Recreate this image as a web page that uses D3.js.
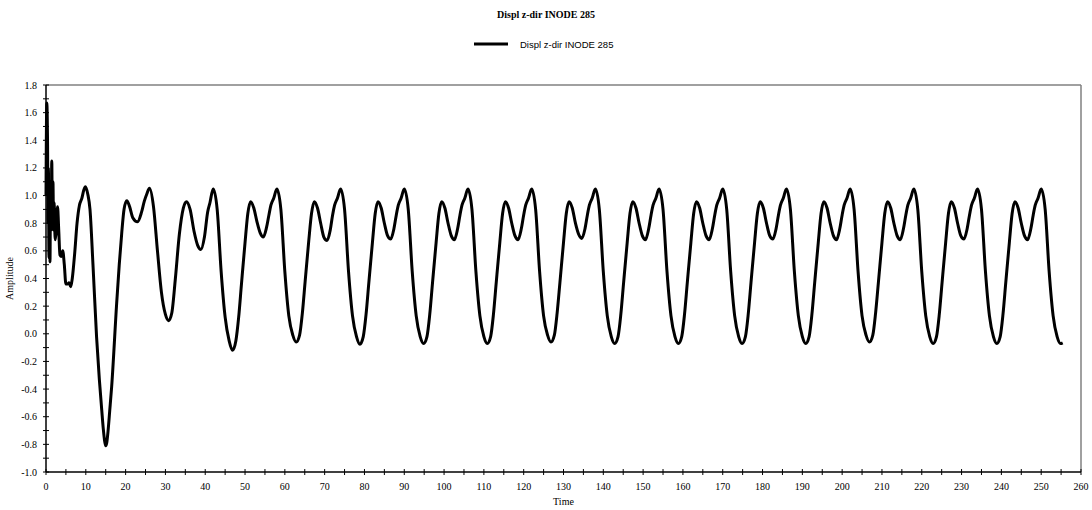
<!DOCTYPE html>
<html>
<head>
<meta charset="utf-8">
<script src="https://cdn.jsdelivr.net/npm/d3@7"></script>
<style>
  body { margin: 0; background: #fff; }
  svg { display: block; }
  .tick-label { font-family: "Liberation Serif", "Times New Roman", serif; font-size: 10px; fill: #000; }
</style>
</head>
<body>
<svg id="chart" width="1092" height="510"></svg>
<script>
var chartTitle = 'Displ z-dir INODE 285';
var seriesName = 'Displ z-dir INODE 285';
var xLabel = 'Time';
var yLabel = 'Amplitude';

var xTicks = [0, 10, 20, 30, 40, 50, 60, 70, 80, 90, 100, 110, 120, 130, 140, 150, 160, 170, 180, 190, 200, 210, 220, 230, 240, 250, 260];
var yTicks = [-1.0, -0.8, -0.6, -0.4, -0.2, 0.0, 0.2, 0.4, 0.6, 0.8, 1.0, 1.2, 1.4, 1.6, 1.8];

// start transient, then one row per cycle (peak to peak)
var time = [
  0, 0.2, 0.4, 0.5, 0.6, 0.75, 0.9, 1.0, 1.15, 1.3, 1.45, 1.6, 1.75, 1.9, 2.05, 2.3, 2.6, 2.9, 3.2, 3.5, 3.8, 4.2, 4.6, 5.0, 5.4, 5.8, 6.2, 6.6, 7.2, 7.8, 8.4, 9.0, 9.5, 9.9,
  10.5, 11.05, 11.8, 12.7, 13.4, 14.0, 14.4, 14.75, 15.0, 15.25, 15.6, 16.0, 16.5, 17.75, 18.4, 19.0, 19.6, 20.3, 21.0, 21.8, 23.0, 24.0, 24.7, 25.3,
  26, 27, 28, 29, 30, 30.8, 31.6, 32.5, 33.5, 34.5, 35.3, 36.2, 37.2, 38.1, 38.9, 39.8, 40.6, 41.2,
  42, 43, 44, 45, 46, 46.85, 47.7, 48.4, 49.1, 50, 50.7, 51.4, 52.2, 53, 53.8, 54.6, 55.4, 56, 56.5, 57.2,
  58, 59, 60, 61, 62, 62.85, 63.7, 64.4, 65.1, 66, 66.7, 67.4, 68.2, 69, 69.8, 70.6, 71.4, 72, 72.5, 73.2,
  74, 75, 76, 77, 78, 78.85, 79.7, 80.4, 81.1, 82, 82.7, 83.4, 84.2, 85, 85.8, 86.6, 87.4, 88, 88.5, 89.2,
  90, 91, 92, 93, 94, 94.85, 95.7, 96.4, 97.1, 98, 98.7, 99.4, 100.2, 101, 101.8, 102.6, 103.4, 104, 104.5, 105.2,
  106, 107, 108, 109, 110, 110.85, 111.7, 112.4, 113.1, 114, 114.7, 115.4, 116.2, 117, 117.8, 118.6, 119.4, 120, 120.5, 121.2,
  122, 123, 124, 125, 126, 126.85, 127.7, 128.4, 129.1, 130, 130.7, 131.4, 132.2, 133, 133.8, 134.6, 135.4, 136, 136.5, 137.2,
  138, 139, 140, 141, 142, 142.85, 143.7, 144.4, 145.1, 146, 146.7, 147.4, 148.2, 149, 149.8, 150.6, 151.4, 152, 152.5, 153.2,
  154, 155, 156, 157, 158, 158.85, 159.7, 160.4, 161.1, 162, 162.7, 163.4, 164.2, 165, 165.8, 166.6, 167.4, 168, 168.5, 169.2,
  170, 171, 172, 173, 174, 174.85, 175.7, 176.4, 177.1, 178, 178.7, 179.4, 180.2, 181, 181.8, 182.6, 183.4, 184, 184.5, 185.2,
  186, 187, 188, 189, 190, 190.85, 191.7, 192.4, 193.1, 194, 194.7, 195.4, 196.2, 197, 197.8, 198.6, 199.4, 200, 200.5, 201.2,
  202, 203, 204, 205, 206, 206.85, 207.7, 208.4, 209.1, 210, 210.7, 211.4, 212.2, 213, 213.8, 214.6, 215.4, 216, 216.5, 217.2,
  218, 219, 220, 221, 222, 222.85, 223.7, 224.4, 225.1, 226, 226.7, 227.4, 228.2, 229, 229.8, 230.6, 231.4, 232, 232.5, 233.2,
  234, 235, 236, 237, 238, 238.85, 239.7, 240.4, 241.1, 242, 242.7, 243.4, 244.2, 245, 245.8, 246.6, 247.4, 248, 248.5, 249.2,
  250, 251, 252, 253, 254, 254.85, 255.4
];
var amplitude = [
  1.0, 1.67, 1.35, 0.8, 1.2, 0.55, 1.0, 0.52, 1.1, 0.75, 1.25, 0.8, 1.1, 0.75, 0.95, 0.68, 0.75, 0.92, 0.75, 0.57, 0.56, 0.60, 0.50, 0.36, 0.36, 0.37, 0.34, 0.40, 0.58, 0.80, 0.93, 0.98, 1.04, 1.064,
  1.01, 0.90, 0.50, -0.02, -0.33, -0.55, -0.69, -0.78, -0.81, -0.79, -0.70, -0.56, -0.38, 0.22, 0.50, 0.72, 0.90, 0.963, 0.92, 0.84, 0.81, 0.88, 0.96, 1.01,
  1.053, 0.92, 0.60, 0.30, 0.14, 0.095, 0.15, 0.40, 0.72, 0.91, 0.956, 0.90, 0.74, 0.64, 0.61, 0.70, 0.88, 0.95,
  1.048, 0.90, 0.45, 0.12, -0.05, -0.12, -0.05, 0.12, 0.36, 0.66, 0.87, 0.956, 0.91, 0.81, 0.73, 0.70, 0.77, 0.86, 0.93, 0.98,
  1.048, 0.90, 0.45, 0.13, -0.01, -0.06, -0.01, 0.15, 0.38, 0.67, 0.87, 0.956, 0.91, 0.80, 0.70, 0.675, 0.75, 0.86, 0.93, 0.98,
  1.048, 0.90, 0.45, 0.13, -0.02, -0.075, -0.02, 0.14, 0.37, 0.66, 0.87, 0.956, 0.91, 0.80, 0.71, 0.685, 0.76, 0.86, 0.93, 0.98,
  1.048, 0.90, 0.45, 0.13, -0.02, -0.07, -0.02, 0.14, 0.37, 0.66, 0.87, 0.956, 0.91, 0.80, 0.71, 0.68, 0.76, 0.86, 0.93, 0.98,
  1.048, 0.90, 0.45, 0.13, -0.02, -0.07, -0.02, 0.14, 0.37, 0.66, 0.87, 0.956, 0.91, 0.80, 0.71, 0.68, 0.76, 0.86, 0.93, 0.98,
  1.048, 0.90, 0.45, 0.13, -0.01, -0.06, -0.01, 0.15, 0.37, 0.66, 0.87, 0.956, 0.91, 0.80, 0.72, 0.69, 0.76, 0.86, 0.93, 0.98,
  1.048, 0.90, 0.45, 0.13, -0.02, -0.07, -0.02, 0.14, 0.37, 0.66, 0.87, 0.956, 0.91, 0.80, 0.71, 0.68, 0.76, 0.86, 0.93, 0.98,
  1.048, 0.90, 0.45, 0.13, -0.02, -0.07, -0.02, 0.14, 0.37, 0.66, 0.87, 0.956, 0.91, 0.80, 0.71, 0.68, 0.76, 0.86, 0.93, 0.98,
  1.048, 0.90, 0.45, 0.13, -0.02, -0.07, -0.02, 0.14, 0.37, 0.66, 0.87, 0.956, 0.91, 0.80, 0.71, 0.685, 0.76, 0.86, 0.93, 0.98,
  1.048, 0.90, 0.45, 0.13, -0.02, -0.07, -0.02, 0.14, 0.37, 0.66, 0.87, 0.956, 0.91, 0.80, 0.71, 0.68, 0.76, 0.86, 0.93, 0.98,
  1.048, 0.90, 0.45, 0.13, -0.01, -0.06, -0.01, 0.15, 0.37, 0.66, 0.87, 0.956, 0.91, 0.80, 0.71, 0.68, 0.76, 0.86, 0.93, 0.98,
  1.048, 0.90, 0.45, 0.13, -0.02, -0.07, -0.02, 0.14, 0.37, 0.66, 0.87, 0.956, 0.91, 0.80, 0.71, 0.685, 0.76, 0.86, 0.93, 0.98,
  1.048, 0.90, 0.45, 0.13, -0.02, -0.07, -0.02, 0.14, 0.37, 0.66, 0.87, 0.956, 0.91, 0.80, 0.71, 0.68, 0.76, 0.86, 0.93, 0.98,
  1.048, 0.90, 0.45, 0.13, -0.02, -0.07, -0.065
];

var svg = d3.select('#chart');
var margin = { left: 46, right: 1092 - 1081, top: 85, bottom: 510 - 472 };
var width = 1092 - margin.left - margin.right;
var height = 510 - margin.top - margin.bottom;

var x = d3.scaleLinear().domain([0, 260]).range([margin.left, margin.left + width]);
var y = d3.scaleLinear().domain([-1.0, 1.8]).range([margin.top + height, margin.top]);

// title + legend
svg.append('text')
  .attr('x', 546).attr('y', 18)
  .attr('text-anchor', 'middle')
  .style('font-family', '"Liberation Serif", "Times New Roman", serif')
  .style('font-weight', 'bold')
  .style('font-size', '10px')
  .text(chartTitle);

svg.append('line')
  .attr('x1', 474).attr('x2', 508).attr('y1', 44).attr('y2', 44)
  .attr('stroke', '#000').attr('stroke-width', 3);
svg.append('text')
  .attr('x', 520).attr('y', 47.5)
  .style('font-family', '"Liberation Sans", Arial, sans-serif')
  .style('font-size', '9.5px')
  .text(seriesName);

// frame: grey top/right, black axes
svg.append('line')
  .attr('x1', x(0)).attr('x2', x(260)).attr('y1', y(1.8)).attr('y2', y(1.8))
  .attr('stroke', '#808080').attr('stroke-width', 1.5);
svg.append('line')
  .attr('x1', x(260)).attr('x2', x(260)).attr('y1', y(1.8)).attr('y2', y(-1.0))
  .attr('stroke', '#808080').attr('stroke-width', 1.5);

var xMinor = d3.range(0, 261, 5);
var yMinor = d3.range(-10, 19, 1).map(function(d) { return d / 10; });

var gx = svg.append('g').attr('class', 'x-axis');
gx.append('line')
  .attr('x1', x(0)).attr('x2', x(260)).attr('y1', y(-1.0)).attr('y2', y(-1.0))
  .attr('stroke', '#000').attr('stroke-width', 1.5);
gx.selectAll('.tk').data(xMinor).enter().append('line')
  .attr('x1', function(d) { return x(d); }).attr('x2', function(d) { return x(d); })
  .attr('y1', y(-1.0) - 3).attr('y2', y(-1.0) + 3)
  .attr('stroke', '#000').attr('stroke-width', 1);
gx.selectAll('.tick-label').data(xTicks).enter().append('text')
  .attr('class', 'tick-label')
  .attr('x', function(d) { return x(d); })
  .attr('y', y(-1.0) + 18)
  .attr('text-anchor', 'middle')
  .text(function(d) { return d; });

var gy = svg.append('g').attr('class', 'y-axis');
gy.append('line')
  .attr('x1', x(0)).attr('x2', x(0)).attr('y1', y(1.8)).attr('y2', y(-1.0))
  .attr('stroke', '#000').attr('stroke-width', 1.5);
gy.selectAll('.tk').data(yMinor).enter().append('line')
  .attr('x1', x(0) - 3).attr('x2', x(0) + 3)
  .attr('y1', function(d) { return y(d); }).attr('y2', function(d) { return y(d); })
  .attr('stroke', '#000').attr('stroke-width', 1);
gy.selectAll('.tick-label').data(yTicks).enter().append('text')
  .attr('class', 'tick-label')
  .attr('x', x(0) - 9)
  .attr('y', function(d) { return y(d) + 3.5; })
  .attr('text-anchor', 'end')
  .text(function(d) { return d3.format('.1f')(d).replace('\u2212', '-'); });

svg.append('text')
  .attr('x', x(130)).attr('y', 505)
  .attr('text-anchor', 'middle')
  .style('font-family', '"Liberation Serif", "Times New Roman", serif')
  .style('font-size', '10px')
  .text(xLabel);
svg.append('text')
  .attr('transform', 'translate(13,' + y(0.4) + ') rotate(-90)')
  .attr('text-anchor', 'middle')
  .style('font-family', '"Liberation Serif", "Times New Roman", serif')
  .style('font-size', '10px')
  .text(yLabel);

var points = time.map(function(t, i) { return { t: t, v: amplitude[i] }; });
var line = d3.line()
  .x(function(d) { return x(d.t); })
  .y(function(d) { return y(d.v); })
  .curve(d3.curveMonotoneX);

svg.append('path')
  .datum(points)
  .attr('fill', 'none')
  .attr('stroke', '#000')
  .attr('stroke-width', 3)
  .attr('stroke-linejoin', 'round')
  .attr('d', line);
</script>
</body>
</html>
